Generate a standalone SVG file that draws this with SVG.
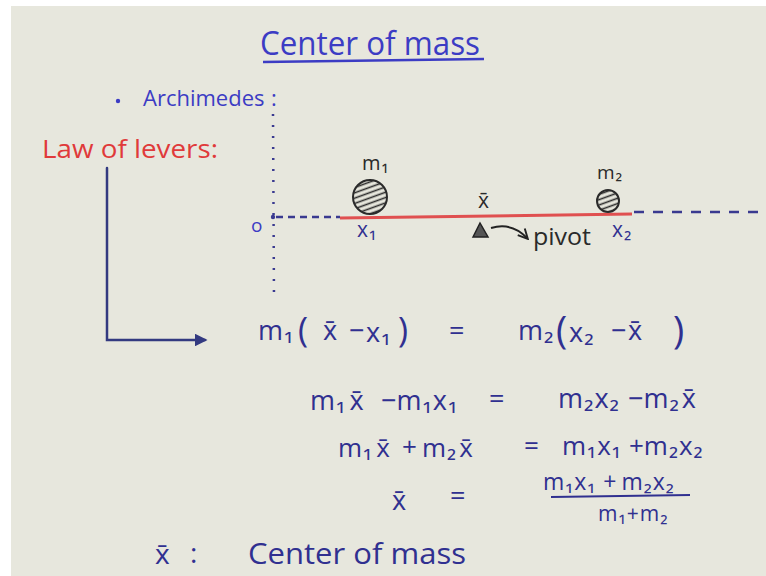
<svg xmlns="http://www.w3.org/2000/svg" width="766" height="576" viewBox="0 0 766 576">
<defs>
<style>
.bg{fill:#e7e7dd}
.hb{fill:#3c3cc4;font-family:"Open Sans","Liberation Sans",sans-serif}
.eq{fill:#303090;font-family:"Open Sans","Liberation Sans",sans-serif;font-size:27px}
.red{fill:#e03a3a;font-family:"Open Sans","Liberation Sans",sans-serif}
.dk{fill:#2a2a2a;font-family:"Open Sans","Liberation Sans",sans-serif}
.dot{stroke:#3a3a90;stroke-width:2.5;fill:none}
.ink{stroke:#333a80;stroke-width:2.5;fill:none;stroke-linecap:round}
.hatch{stroke:#2a2a2a;stroke-width:1.6}
</style>
<marker id="ah" viewBox="0 0 10 10" refX="8" refY="5" markerWidth="5" markerHeight="5" orient="auto">
<path d="M0,0 L10,5 L0,10 z" fill="#333a80"/>
</marker>
<marker id="ah2" viewBox="0 0 10 10" refX="8" refY="5" markerWidth="6" markerHeight="6" orient="auto">
<path d="M1,1 L9,5 L1,9" fill="none" stroke="#222" stroke-width="1.6"/>
</marker>
<pattern id="hp" width="5" height="5" patternUnits="userSpaceOnUse" patternTransform="rotate(-20)">
<line x1="0" y1="2.5" x2="5" y2="2.5" class="hatch"/>
</pattern>
</defs>
<rect x="0" y="0" width="766" height="576" fill="#ffffff"/>
<rect class="bg" x="11" y="6" width="755" height="570"/>

<g id="title">
<text class="hb" x="260" y="55" font-size="32" textLength="220" lengthAdjust="spacingAndGlyphs">Center of mass</text>
<path d="M263,62 L484,59" stroke="#3c3cc4" stroke-width="2.5" fill="none"/>
</g>

<g id="archimedes">
<circle cx="118" cy="101" r="2.2" fill="#3c3cc4"/>
<text class="hb" x="143" y="106" font-size="22">Archimedes</text>
<text class="hb" x="271" y="106" font-size="22">:</text>
</g>

<g id="law">
<text class="red" x="42" y="158" font-size="26" textLength="176" lengthAdjust="spacingAndGlyphs">Law of levers:</text>
</g>

<g id="axes">
<path class="dot" d="M273,114 L274,298" stroke-dasharray="2 9"/>
<path class="dot" d="M276,217 L340,217" stroke-dasharray="7 5"/>
<path class="dot" d="M634,212 L764,212" stroke-dasharray="10 9"/>
<circle cx="273" cy="217" r="2.2" fill="#3a3a90"/>
<text class="hb" x="251" y="232" font-size="19" fill="#303090">o</text>
</g>

<g id="lever">
<path d="M340,218 L632,214" stroke="#e05050" stroke-width="3" fill="none"/>
<polygon points="473,237 480,223 488,237" fill="#555" stroke="#222" stroke-width="1.5"/>
<path d="M491,228 Q512,222 527,238" stroke="#222" stroke-width="2" fill="none" marker-end="url(#ah2)"/>
<text class="dk" x="533" y="245" font-size="23" textLength="58" lengthAdjust="spacingAndGlyphs">pivot</text>
</g>

<g id="m1">
<circle cx="370" cy="197" r="17" fill="url(#hp)" stroke="#2a2a2a" stroke-width="2"/>
<text class="dk" x="362" y="170" font-size="20">m<tspan dx="1">₁</tspan></text>
<text class="eq" x="357" y="237" style="font-size:21px">x<tspan dx="1">₁</tspan></text>
</g>

<g id="m2">
<circle cx="608" cy="201" r="11" fill="url(#hp)" stroke="#2a2a2a" stroke-width="2"/>
<text class="dk" x="597" y="179" font-size="19">m<tspan dx="1">₂</tspan></text>
<text class="eq" x="612" y="237" style="font-size:21px">x<tspan dx="1">₂</tspan></text>
</g>

<g id="xbar">
<text class="dk" x="478" y="208" font-size="21">x̄</text>
</g>

<g id="connectors">
<path class="ink" d="M107,168 L107,340 L205,340" marker-end="url(#ah)"/>
</g>

<g id="eq1">
<text class="eq" x="258" y="340">m<tspan dx="1">₁</tspan></text>
<text class="eq" x="298" y="342" style="font-size:34px">(</text>
<text class="eq" x="323" y="340">x̄</text>
<text class="eq" x="349" y="340">−</text>
<text class="eq" x="366" y="342">x<tspan dx="1">₁</tspan></text>
<text class="eq" x="398" y="342" style="font-size:34px">)</text>
<text class="eq" x="449" y="340">=</text>
<text class="eq" x="518" y="340">m<tspan dx="1">₂</tspan></text>
<text class="eq" x="556" y="344" style="font-size:38px">(</text>
<text class="eq" x="569" y="342">x<tspan dx="1">₂</tspan></text>
<text class="eq" x="611" y="340">−</text>
<text class="eq" x="628" y="340">x̄</text>
<text class="eq" x="673" y="344" style="font-size:38px">)</text>
</g>

<g id="eq2">
<text class="eq" x="310" y="410">m<tspan dx="1">₁</tspan><tspan dx="4">x̄</tspan></text>
<text class="eq" x="381" y="410">−m<tspan dx="1">₁</tspan><tspan dx="1">x</tspan><tspan dx="1">₁</tspan></text>
<text class="eq" x="489" y="408">=</text>
<text class="eq" x="558" y="408">m<tspan dx="1">₂</tspan><tspan dx="1">x</tspan><tspan dx="1">₂</tspan></text>
<text class="eq" x="628" y="408">−m<tspan dx="1">₂</tspan><tspan dx="3">x̄</tspan></text>
</g>

<g id="eq3" style="font-size:26px">
<text class="eq" x="338" y="457" style="font-size:26px">m<tspan dx="1">₁</tspan><tspan dx="4">x̄</tspan></text>
<text class="eq" x="402" y="456" style="font-size:26px">+</text>
<text class="eq" x="422" y="457" style="font-size:26px">m<tspan dx="1">₂</tspan><tspan dx="3">x̄</tspan></text>
<text class="eq" x="524" y="455" style="font-size:26px">=</text>
<text class="eq" x="562" y="455" style="font-size:26px">m<tspan dx="1">₁</tspan><tspan dx="1">x</tspan><tspan dx="1">₁</tspan></text>
<text class="eq" x="629" y="455" style="font-size:26px">+m<tspan dx="1">₂</tspan><tspan dx="1">x</tspan><tspan dx="1">₂</tspan></text>
</g>

<g id="eq4">
<text class="eq" x="392" y="510">x̄</text>
<text class="eq" x="450" y="505">=</text>
<text class="eq" x="543" y="490" style="font-size:23px">m<tspan dx="1">₁</tspan><tspan dx="1">x</tspan><tspan dx="1">₁</tspan><tspan dx="8">+</tspan><tspan dx="5">m</tspan><tspan dx="1">₂</tspan><tspan dx="1">x</tspan><tspan dx="1">₂</tspan></text>
<path d="M551,497 L690,495" stroke="#303090" stroke-width="2.2" fill="none"/>
<text class="eq" x="598" y="521" style="font-size:21px">m<tspan dx="1">₁</tspan><tspan dx="1">+</tspan><tspan dx="1">m</tspan><tspan dx="1">₂</tspan></text>
</g>

<g id="definition">
<text class="eq" x="155" y="564" style="font-size:28px">x̄</text>
<text class="eq" x="190" y="563" style="font-size:28px">:</text>
<text class="eq" x="248" y="564" style="font-size:30px" textLength="218" lengthAdjust="spacingAndGlyphs">Center of mass</text>
</g>
</svg>
